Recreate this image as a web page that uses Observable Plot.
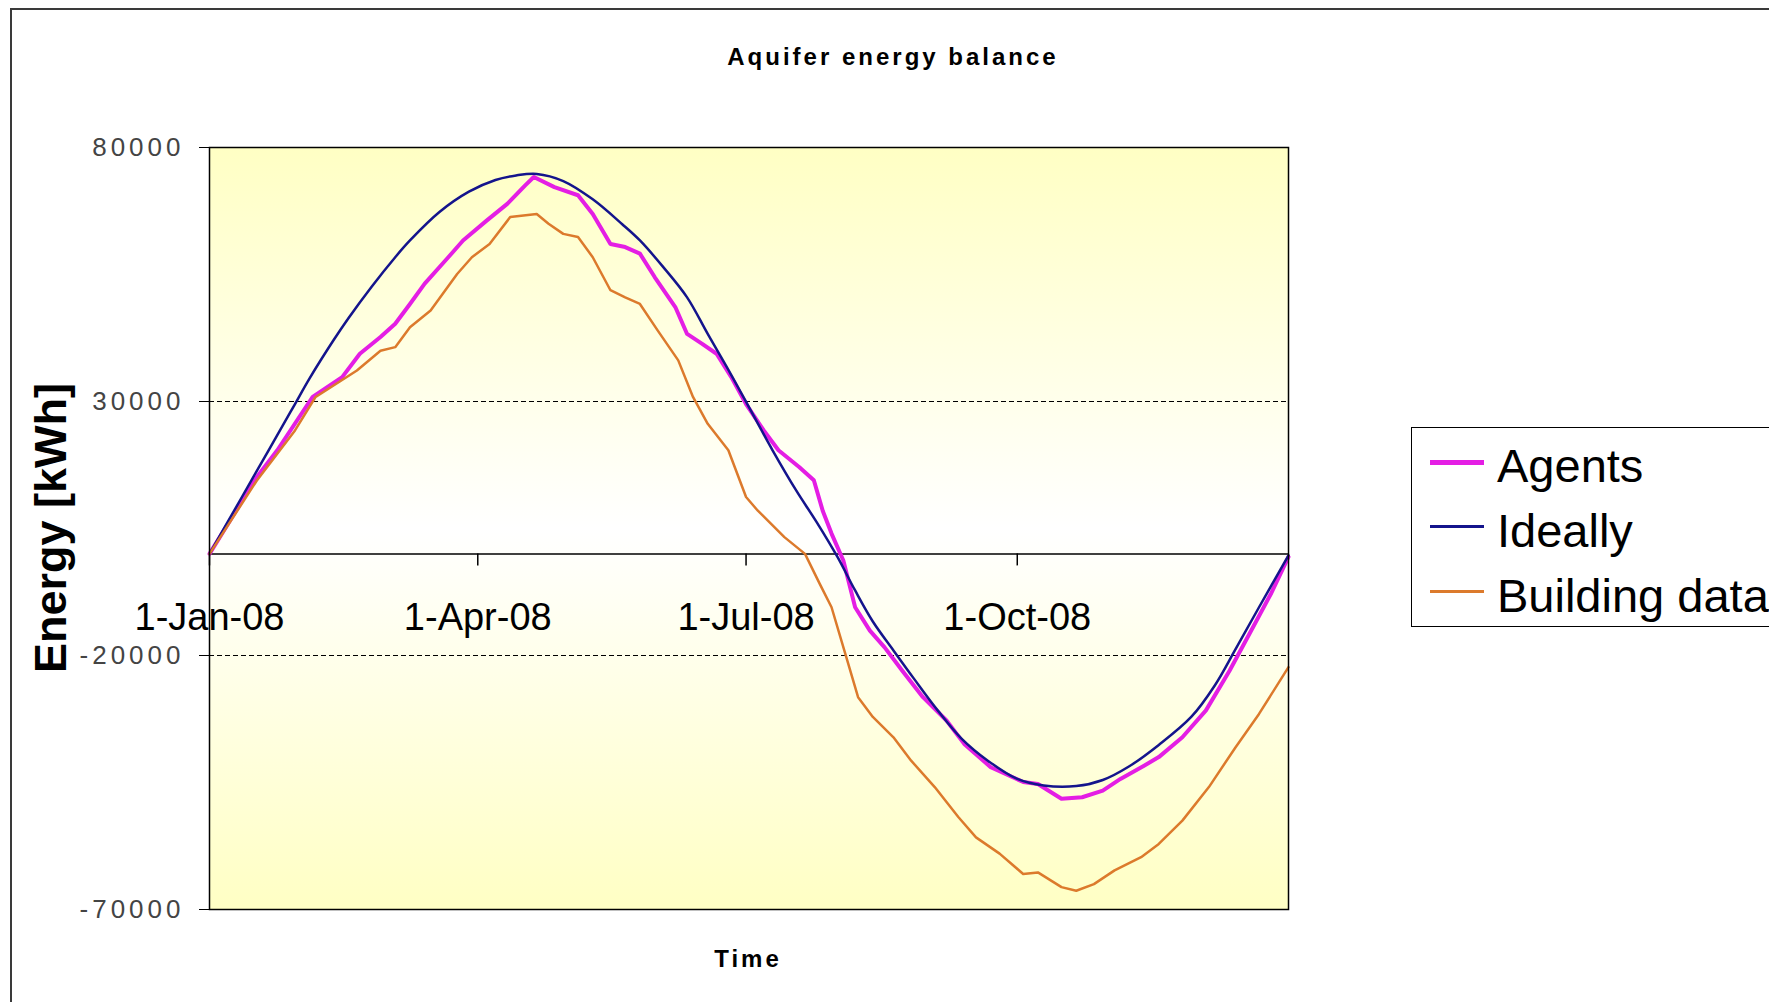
<!DOCTYPE html>
<html>
<head>
<meta charset="utf-8">
<script src="https://cdn.jsdelivr.net/npm/d3@7"></script>
<script src="https://cdn.jsdelivr.net/npm/@observablehq/plot@0.6"></script>
<style>
  html, body { margin: 0; padding: 0; background: #fff; overflow: hidden; }
  #wrap { position: relative; width: 1769px; height: 1002px; overflow: hidden; font-family: "Liberation Sans", Arial, sans-serif; }
  #wrap svg { position: absolute; left: 0; top: 0; }
  .outer { position: absolute; left: 10px; top: 8px; width: 1800px; height: 1100px; border-top: 2px solid #3a3a3a; border-left: 2px solid #3a3a3a; }
  .title, .xlabel { position: absolute; transform: translate(-50%, -50%); font-weight: bold; font-size: 24px; letter-spacing: 3px; white-space: nowrap; line-height: 1; color: #000; }
  .ylabel { position: absolute; transform: translate(-50%, -50%) rotate(-90deg); font-weight: bold; font-size: 45px; white-space: nowrap; line-height: 1; color: #000; }
  .legend { position: absolute; left: 1411px; top: 427px; width: 420px; height: 200px; border: 1.5px solid #000; background: #fff; box-sizing: border-box; }
  .item { position: absolute; left: 0; height: 65px; line-height: 65px; font-size: 47px; white-space: nowrap; color: #000; }
  .sw { position: absolute; left: 18px; width: 54px; }
  .lab { position: absolute; left: 85px; top: 0; }
</style>
</head>
<body>
<div id="wrap">
  <div class="outer"></div>
</div>
<script>
// ---------------- data (day of year 2008, energy in kWh) ----------------
const seriesNames = ["Agents", "Ideally", "Building data"];

const agentsDays = [0,16,23,35,45,51,58,63,68,73,81,86,94,101,107,110,117,125,130,136,141,146,151,158,162,167,172,177,182,188,193,200,205,208,211,215,219,224,229,235,242,250,256,265,276,281,289,296,303,309,317,322,330,338,346,354,360,366];
const agentsValues = [0,15100,20400,30900,34800,39400,42700,45300,49200,53200,58400,61700,65600,68900,72500,74200,72200,70600,66900,61000,60400,59100,54500,48600,43300,41400,39400,34800,29500,24300,20400,17100,14500,8500,4000,-1300,-10500,-15100,-18400,-23000,-28200,-32800,-37400,-42000,-44900,-45300,-48200,-47900,-46600,-44300,-41700,-40000,-36100,-30800,-23000,-14400,-7900,-600];

const ideallyDays = [0,11,16,24,29,34,42,47,55,63,68,78,88,97,104,111,120,130,140,146,154,162,169,177,184,191,199,206,213,219,225,232,239,247,255,264,274,283,294,303,312,322,333,341,348,356,366];
const ideallyValues = [0,11200,16300,24400,29500,34600,42000,46300,52600,58400,61700,67300,71300,73600,74500,74800,73400,69800,64900,61700,56400,50500,43300,35200,27800,20400,12500,6200,-600,-7200,-13300,-19000,-24600,-30800,-36300,-40700,-44300,-45600,-45700,-44500,-41800,-37600,-32100,-25900,-18800,-10500,-300];

const buildingDays = [0,16,29,36,43,50,58,63,68,75,84,89,95,102,111,115,120,125,130,136,141,146,152,159,164,169,176,182,186,195,202,207,211,216,220,225,232,238,246,254,260,268,276,281,289,294,300,307,316,322,330,339,348,356,366];
const buildingValues = [0,14400,24300,30900,33500,36100,40000,40700,44600,47900,55100,58400,61000,66300,66900,65000,63000,62400,58400,51900,50500,49200,44000,38100,30900,25600,20400,11200,8500,3300,0,-5900,-10500,-20300,-28200,-32100,-36100,-40700,-45900,-51800,-55800,-59000,-63000,-62700,-65600,-66300,-65000,-62300,-59700,-57100,-52500,-45900,-38100,-31500,-22300];

const xTickLabels = ["2008-01-01", "2008-04-01", "2008-07-01", "2008-10-01"];
const yTicks = [80000, 30000, -20000, -70000];
const yGrid = [30000, -20000];
const xDomain = ["2008-01-01", "2009-01-01"];
const yDomain = [-70000, 80000];

// ---------------- styles ----------------
const colors = {"Agents": "#e41ee4", "Ideally": "#14148c", "Building data": "#dc7a2c"};
const widths = {"Agents": 4, "Ideally": 2.5, "Building data": 2.5};

// ---------------- build ----------------
const start = Date.UTC(2008, 0, 1);
const toDate = d => new Date(start + d * 864e5);
const rows = (days, values) => days.map((d, i) => ({date: toDate(d), value: values[i]}));
const agents = rows(agentsDays, agentsValues);
const ideally = rows(ideallyDays, ideallyValues);
const building = rows(buildingDays, buildingValues);
const xTicks = xTickLabels.map(s => new Date(s + "T00:00:00Z"));
const fmt = d3.utcFormat("%-d-%b-%y");

const chart = Plot.plot({
  width: 1769,
  height: 1002,
  marginLeft: 209,
  marginRight: 481,
  marginTop: 147,
  marginBottom: 93,
  style: {fontFamily: '"Liberation Sans", Arial, sans-serif', background: "transparent", overflow: "visible"},
  x: {type: "utc", domain: xDomain.map(s => new Date(s + "T00:00:00Z")), axis: null},
  y: {domain: yDomain, axis: null},
  marks: [
    Plot.frame({fill: "url(#bgGrad)", stroke: null}),
    Plot.ruleY(yGrid, {stroke: "#000", strokeWidth: 1.2, strokeDasharray: "5,3"}),
    Plot.ruleY([0], {stroke: "#000", strokeWidth: 1.5}),
    Plot.ruleX(xTicks, {x: d => d, y1: 0, y2: 0, insetBottom: -12, stroke: "#000", strokeWidth: 1.5}),
    Plot.text(xTicks, {x: d => d, y: 0, text: d => fmt(d), dy: 64, fontSize: 38, fill: "#000"}),
    Plot.line(agents, {x: "date", y: "value", stroke: colors["Agents"], strokeWidth: widths["Agents"], strokeLinejoin: "round"}),
    Plot.line(ideally, {x: "date", y: "value", stroke: colors["Ideally"], strokeWidth: widths["Ideally"], curve: "catmull-rom"}),
    Plot.line(building, {x: "date", y: "value", stroke: colors["Building data"], strokeWidth: widths["Building data"], strokeLinejoin: "round"}),
    Plot.frame({stroke: "#000", strokeWidth: 1.5}),
    Plot.axisY(yTicks, {label: null, tickSize: 10, tickPadding: 15, fontSize: 26, fill: "#444", stroke: "#000", tickFormat: d => String(d)})
  ]
});

// gradient background of the plotting area
const svg = d3.select(chart);
const defs = svg.insert("defs", ":first-child");
const grad = defs.append("linearGradient").attr("id", "bgGrad").attr("x1", 0).attr("y1", 0).attr("x2", 0).attr("y2", 1);
grad.append("stop").attr("offset", "0%").attr("stop-color", "#ffffc4");
grad.append("stop").attr("offset", "50%").attr("stop-color", "#ffffff");
grad.append("stop").attr("offset", "100%").attr("stop-color", "#ffffc4");
svg.selectAll('g[aria-label="y-axis tick label"] text').style("letter-spacing", "4px");

const wrap = document.getElementById("wrap");
wrap.appendChild(chart);

// texts
function addDiv(cls, text, left, top) {
  const el = document.createElement("div");
  el.className = cls;
  el.textContent = text;
  el.style.left = left + "px";
  el.style.top = top + "px";
  wrap.appendChild(el);
  return el;
}
addDiv("title", "Aquifer energy balance", 893, 57);
addDiv("xlabel", "Time", 748, 959);
addDiv("ylabel", "Energy [kWh]", 50, 528);

// legend
const legend = document.createElement("div");
legend.className = "legend";
seriesNames.forEach((name, i) => {
  const item = document.createElement("div");
  item.className = "item";
  item.style.top = (5 + i * 65) + "px";
  item.style.width = "400px";
  const sw = document.createElement("div");
  sw.className = "sw";
  sw.style.borderTop = widths[name] + 1 + "px solid " + colors[name];
  sw.style.top = (29 - (widths[name] + 1) / 2) + "px";
  const lab = document.createElement("div");
  lab.className = "lab";
  lab.textContent = name;
  item.appendChild(sw);
  item.appendChild(lab);
  legend.appendChild(item);
});
wrap.appendChild(legend);
</script>
</body>
</html>
